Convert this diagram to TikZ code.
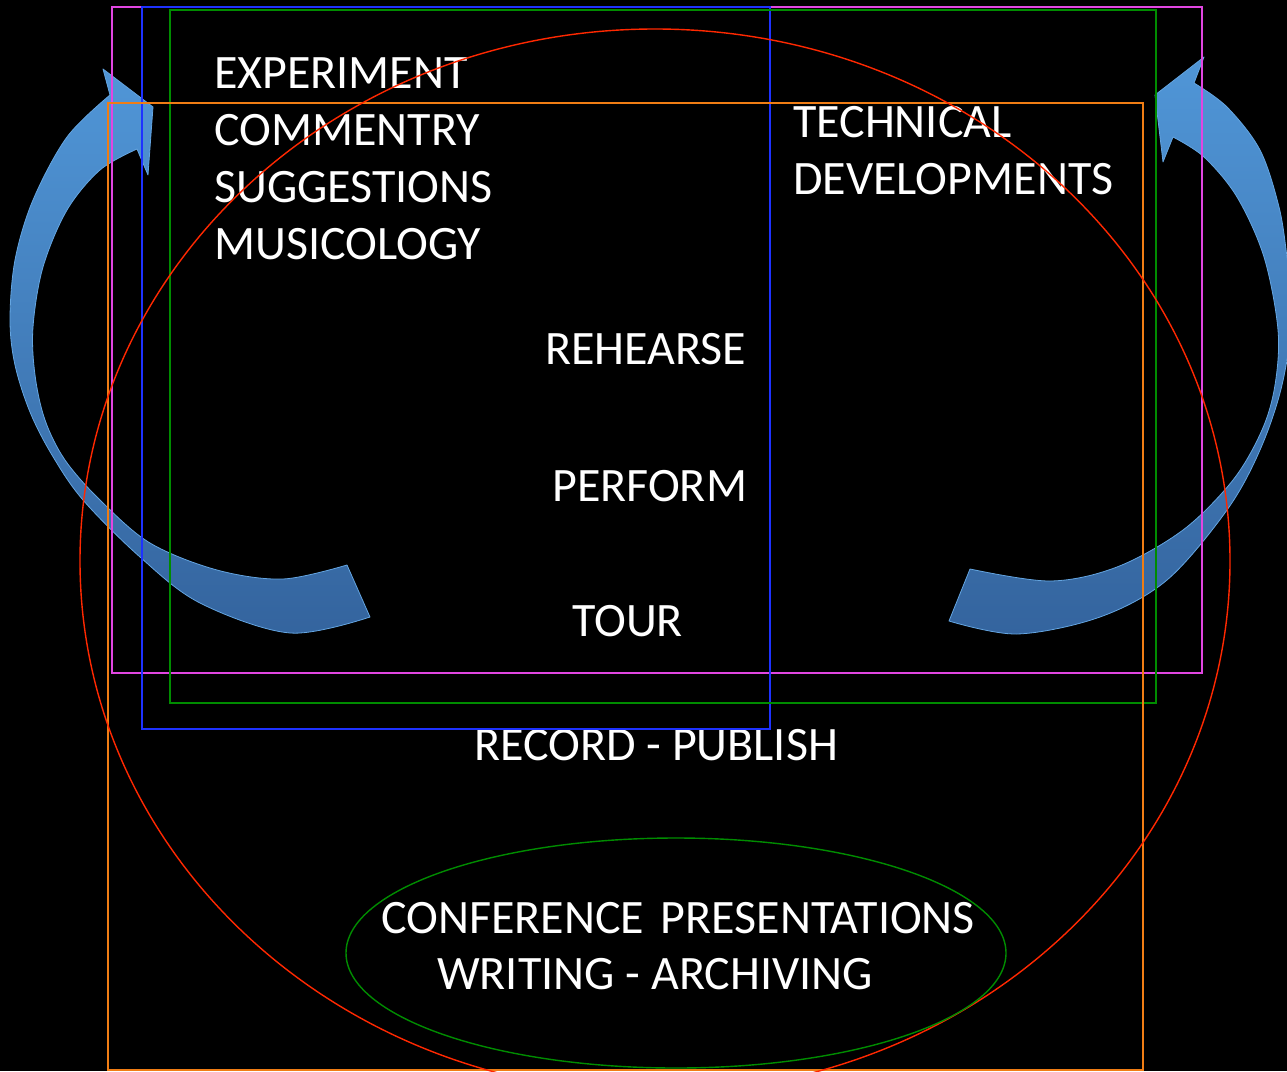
\documentclass[tikz,border=0pt]{standalone}
\usepackage{fontspec}
\setmainfont{Carlito}
\definecolor{cMag}{RGB}{225,70,225}
\definecolor{cBlue}{RGB}{30,50,255}
\definecolor{cGreen}{RGB}{0,140,0}
\definecolor{cOrange}{RGB}{240,125,20}
\definecolor{cRed}{RGB}{255,40,0}
\definecolor{arTop}{RGB}{80,150,215}
\definecolor{arBot}{RGB}{52,100,158}
\definecolor{arEdge}{RGB}{100,165,225}
\begin{document}
\begin{tikzpicture}[x=1pt,y=-1pt,
  lbl/.style={text=white,font=\fontsize{48}{57}\selectfont,inner sep=0pt,anchor=west},
  blk/.style={text=white,font=\fontsize{48}{57}\selectfont,inner sep=0pt,anchor=north west,align=left},
  frame/.style={line width=1.4pt},
  arrowband/.style={top color=arTop,bottom color=arBot,draw=arEdge,line width=0.8pt,line join=round}]
\fill[black] (0,0) rectangle (1287,1071);
\useasboundingbox (0,0) rectangle (1287,1071);
\clip (0,0) rectangle (1287,1071);
% curved arrows
\path[arrowband] (347,565) -- (370,617)
  -- plot[smooth,tension=0.55] coordinates {(370,617)(290,633)(200,603)(140,557)(83,500)(52,455)(30,412)(15,365)(10,320)(15,260)(33,200)(67,137)(110,95)}
  -- (103,69) -- (153,107) -- (148,175) -- (137,149)
  -- plot[smooth,tension=0.55] coordinates {(137,149)(100,170)(67,210)(43,267)(33,327)(35,375)(45,420)(65,460)(100,500)(150,543)(217,570)(283,579)(347,565)}
  -- cycle;
\path[arrowband] (970,569) -- (949,621)
  -- plot[smooth,tension=0.55] coordinates {(949,621)(1017,634)(1100,617)(1167,580)(1227,510)(1260,450)(1282,385)(1293,310)(1287,257)(1279,207)(1260,150)(1227,107)(1194,83)}
  -- (1204,57) -- (1155,95) -- (1163,162) -- (1173,137)
  -- plot[smooth,tension=0.55] coordinates {(1173,137)(1204,157)(1237,197)(1264,257)(1278,330)(1275,385)(1262,430)(1233,480)(1183,530)(1117,567)(1050,581)(970,569)}
  -- cycle;
% texts
\node[blk] (exp) at (214,57) {EXPERIMENT\\COMMENTRY\\SUGGESTIONS\\MUSICOLOGY};
\node[blk] (tech) at (793,106) {TECHNICAL\\DEVELOPMENTS};
\node[lbl] (reh) at (545,349) {REHEARSE};
\node[lbl] (perf) at (552,486) {PERFORM};
\node[lbl] (tour) at (572,621) {TOUR};
\node[lbl] (rec) at (474,745) {RECORD - PUBLISH};
\node[lbl] (conf) at (381,918) {CONFERENCE\hspace{0.12em} PRESENTATIONS};
\node[lbl] (writ) at (437,974) {WRITING - ARCHIVING};
% frames
\draw[frame,cMag] (112,7) rectangle (1202,673);
\draw[frame,cBlue] (142,7) rectangle (770,729);
\draw[frame,cGreen] (170,10) rectangle (1156,703);
\draw[frame,cOrange] (108,103) rectangle (1143,1070);
\draw[frame,cRed] (655,561) ellipse [x radius=575pt,y radius=532pt];
\draw[frame,cGreen] (676,953) ellipse [x radius=330pt,y radius=115pt];
\end{tikzpicture}
\end{document}
